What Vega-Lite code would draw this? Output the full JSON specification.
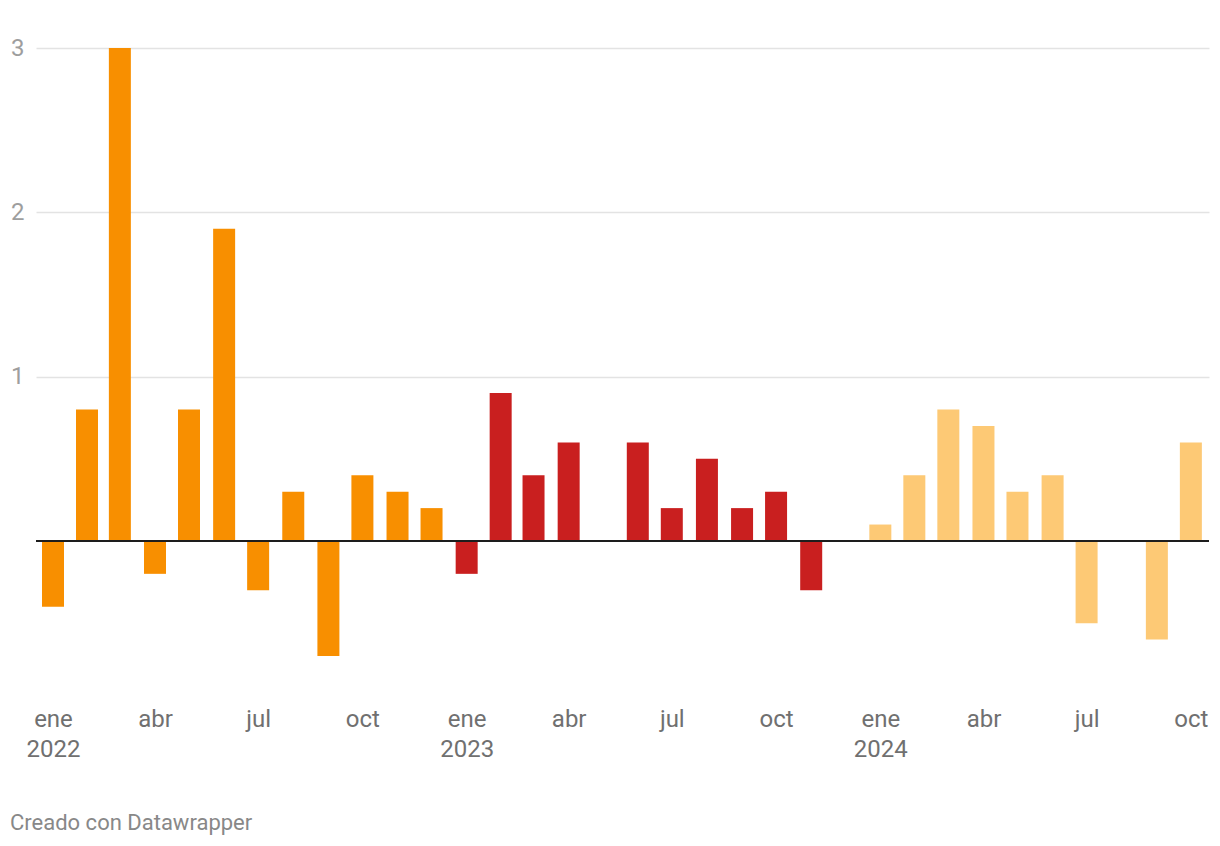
{
  "$schema": "https://vega.github.io/schema/vega-lite/v6.json",
  "width": 1173,
  "height": 608,
  "autosize": {"type": "none"},
  "padding": {"left": 36, "top": 48, "right": 11, "bottom": 190},
  "background": "white",
  "config": {
    "view": {"stroke": null},
    "font": "Roboto",
    "title": {"font": "Roboto"}
  },
  "title": {
    "text": "Creado con Datawrapper",
    "orient": "bottom",
    "anchor": "start",
    "frame": "group",
    "fontSize": 22,
    "fontWeight": "normal",
    "color": "#888888",
    "dx": -26,
    "offset": 52
  },
  "data": {
    "values": [
      {"fecha": "2022-01-16", "valor": -0.4, "anio": "2022"},
      {"fecha": "2022-02-15", "valor": 0.8, "anio": "2022"},
      {"fecha": "2022-03-16", "valor": 3.0, "anio": "2022"},
      {"fecha": "2022-04-16", "valor": -0.2, "anio": "2022"},
      {"fecha": "2022-05-16", "valor": 0.8, "anio": "2022"},
      {"fecha": "2022-06-16", "valor": 1.9, "anio": "2022"},
      {"fecha": "2022-07-16", "valor": -0.3, "anio": "2022"},
      {"fecha": "2022-08-16", "valor": 0.3, "anio": "2022"},
      {"fecha": "2022-09-16", "valor": -0.7, "anio": "2022"},
      {"fecha": "2022-10-16", "valor": 0.4, "anio": "2022"},
      {"fecha": "2022-11-16", "valor": 0.3, "anio": "2022"},
      {"fecha": "2022-12-16", "valor": 0.2, "anio": "2022"},
      {"fecha": "2023-01-16", "valor": -0.2, "anio": "2023"},
      {"fecha": "2023-02-15", "valor": 0.9, "anio": "2023"},
      {"fecha": "2023-03-16", "valor": 0.4, "anio": "2023"},
      {"fecha": "2023-04-16", "valor": 0.6, "anio": "2023"},
      {"fecha": "2023-05-16", "valor": 0.0, "anio": "2023"},
      {"fecha": "2023-06-16", "valor": 0.6, "anio": "2023"},
      {"fecha": "2023-07-16", "valor": 0.2, "anio": "2023"},
      {"fecha": "2023-08-16", "valor": 0.5, "anio": "2023"},
      {"fecha": "2023-09-16", "valor": 0.2, "anio": "2023"},
      {"fecha": "2023-10-16", "valor": 0.3, "anio": "2023"},
      {"fecha": "2023-11-16", "valor": -0.3, "anio": "2023"},
      {"fecha": "2023-12-16", "valor": 0.0, "anio": "2023"},
      {"fecha": "2024-01-16", "valor": 0.1, "anio": "2024"},
      {"fecha": "2024-02-15", "valor": 0.4, "anio": "2024"},
      {"fecha": "2024-03-16", "valor": 0.8, "anio": "2024"},
      {"fecha": "2024-04-16", "valor": 0.7, "anio": "2024"},
      {"fecha": "2024-05-16", "valor": 0.3, "anio": "2024"},
      {"fecha": "2024-06-16", "valor": 0.4, "anio": "2024"},
      {"fecha": "2024-07-16", "valor": -0.5, "anio": "2024"},
      {"fecha": "2024-08-16", "valor": 0.0, "anio": "2024"},
      {"fecha": "2024-09-16", "valor": -0.6, "anio": "2024"},
      {"fecha": "2024-10-16", "valor": 0.6, "anio": "2024"}
    ]
  },
  "layer": [
    {
      "mark": {"type": "bar", "width": 22},
      "encoding": {
        "x": {
          "field": "fecha",
          "type": "temporal",
          "scale": {
            "type": "utc",
            "padding": 0,
            "domain": [
              {"year": 2022, "month": 1, "date": 1, "utc": true},
              {"year": 2024, "month": 11, "date": 1, "utc": true}
            ]
          },
          "axis": {
            "title": null,
            "domain": false,
            "ticks": false,
            "grid": false,
            "values": [
              {"year": 2022, "month": 1, "date": 16, "utc": true},
              {"year": 2022, "month": 4, "date": 16, "utc": true},
              {"year": 2022, "month": 7, "date": 16, "utc": true},
              {"year": 2022, "month": 10, "date": 16, "utc": true},
              {"year": 2023, "month": 1, "date": 16, "utc": true},
              {"year": 2023, "month": 4, "date": 16, "utc": true},
              {"year": 2023, "month": 7, "date": 16, "utc": true},
              {"year": 2023, "month": 10, "date": 16, "utc": true},
              {"year": 2024, "month": 1, "date": 16, "utc": true},
              {"year": 2024, "month": 4, "date": 16, "utc": true},
              {"year": 2024, "month": 7, "date": 16, "utc": true},
              {"year": 2024, "month": 10, "date": 16, "utc": true}
            ],
            "labelExpr": "utcmonth(datum.value) == 0 ? ['ene', utcFormat(datum.value, '%Y')] : utcmonth(datum.value) == 3 ? 'abr' : utcmonth(datum.value) == 6 ? 'jul' : 'oct'",
            "labelFont": "Roboto",
            "labelFontSize": 24,
            "labelColor": "#707070",
            "labelPadding": 51,
            "labelLineHeight": 30,
            "labelOverlap": false,
            "labelFlush": false,
            "labelBound": false
          }
        },
        "y": {
          "field": "valor",
          "type": "quantitative",
          "scale": {"domain": [-0.7, 3], "nice": false, "zero": false},
          "axis": {
            "title": null,
            "domain": false,
            "ticks": false,
            "values": [1, 2, 3],
            "format": "d",
            "gridColor": "#e3e3e3",
            "gridWidth": 1.5,
            "labelFont": "Roboto",
            "labelFontSize": 24,
            "labelColor": "#9e9e9e",
            "labelPadding": 12,
            "labelAlign": "right"
          }
        },
        "color": {
          "field": "anio",
          "type": "nominal",
          "scale": {"domain": ["2022", "2023", "2024"], "range": ["#f88f00", "#c91f1f", "#fdc975"]},
          "legend": null
        }
      }
    },
    {
      "mark": {"type": "rule", "color": "#1d1d1d", "strokeWidth": 2},
      "encoding": {"y": {"datum": 0}}
    }
  ]
}
